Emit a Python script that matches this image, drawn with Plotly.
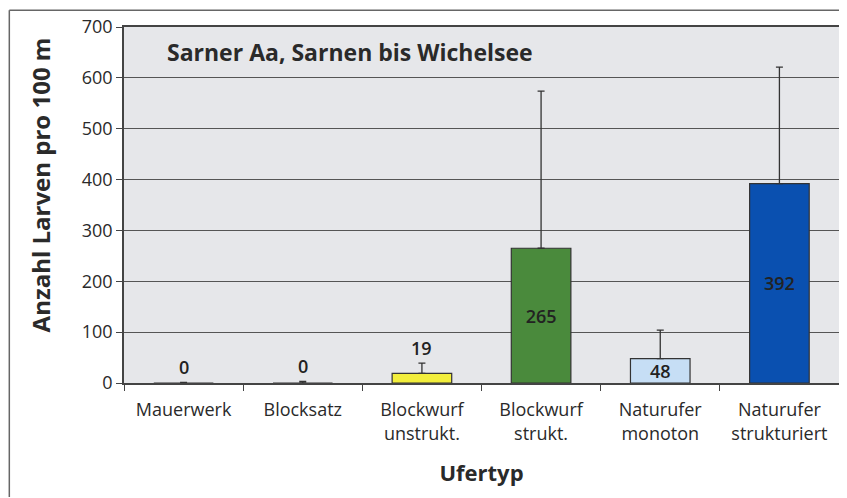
import plotly.graph_objects as go

# Ufertyp categories and mean larvae per 100 m
categories = ["Mauerwerk", "Blocksatz", "Blockwurf<br>unstrukt.", "Blockwurf<br>strukt.",
              "Naturufer<br>monoton", "Naturufer<br>strukturiert"]
larvae = [0, 0, 19, 265, 48, 392]
larvae_err = [1, 3, 20, 309, 56, 229]
value_labels = ["0", "0", "19", "265", "48", "392"]
label_inside = [False, False, False, True, True, True]

bar_colors = ["#f2ee3c", "#f2ee3c", "#f2ee3c", "#4a8a3c", "#c6def5", "#0a50b0"]
font_family = "'Open Sans', Lato, sans-serif"

fig = go.Figure()
fig.add_trace(go.Bar(
    x=categories, y=larvae,
    marker=dict(color=bar_colors, line=dict(color="#333333", width=1.2)),
    width=0.5,
    error_y=dict(type="data", symmetric=False, array=larvae_err, arrayminus=[0] * 6,
                 color="#333333", thickness=1.3, width=3.5),
    text=[t if inside else "" for t, inside in zip(value_labels, label_inside)],
    textposition="inside", insidetextanchor="middle", textangle=0, constraintext="none",
    textfont=dict(family=font_family, size=18, color="#222222", weight=600),
    hoverinfo="skip",
))

# labels for the small bars sit above the error bar
for cat, val, err, lab, inside in zip(categories, larvae, larvae_err, value_labels, label_inside):
    if not inside:
        fig.add_annotation(x=cat, y=val + err, text=lab, showarrow=False,
                           yanchor="middle", yshift=15,
                           font=dict(family=font_family, size=18, color="#222222", weight=600))

fig.add_annotation(xref="paper", yref="paper", x=0.058, y=0.93, xanchor="left", yanchor="middle",
                   text="<b>Sarner Aa, Sarnen bis Wichelsee</b>", showarrow=False,
                   font=dict(family=font_family, size=23, color="#2a2a2a"))

# y-axis title (sits a little above the axis centre in the original)
fig.add_annotation(xref="paper", yref="paper", x=-0.117, y=0.556, xanchor="center", yanchor="middle",
                   text="<b>Anzahl Larven pro 100 m</b>", textangle=-90, showarrow=False,
                   font=dict(family=font_family, size=24, color="#2a2a2a"))

# outer frame of the figure: top and left edges (others fall outside the picture)
frame = dict(color="#666666", width=1.5)
fig.add_shape(type="line", xref="paper", yref="paper", x0=-0.1604, x1=1.008, y0=1.047, y1=1.047, line=frame)
fig.add_shape(type="line", xref="paper", yref="paper", x0=-0.1604, x1=-0.1604, y0=-0.32, y1=1.047, line=frame)

fig.update_layout(
    width=839, height=490,
    margin=dict(l=116, r=6, t=19, b=115),
    paper_bgcolor="white",
    plot_bgcolor="#e6e7ea",
    showlegend=False,
    bargap=0.5,
    font=dict(family=font_family, color="#2a2a2a"),
    xaxis=dict(
        title=dict(text="<b>Ufertyp</b>", font=dict(size=22), standoff=22),
        tickfont=dict(size=18),
        ticklabelstandoff=10,
        showline=True, linecolor="#444444", linewidth=1.5, mirror=True,
        ticks="outside", tickson="boundaries", ticklen=6, tickcolor="#444444",
        showgrid=False,
    ),
    yaxis=dict(
        range=[0, 700], dtick=100,
        tickfont=dict(size=18),
        showline=True, linecolor="#444444", linewidth=1.5, mirror=True,
        ticks="outside", ticklen=6, tickcolor="#444444",
        showgrid=True, gridcolor="#555555", gridwidth=1,
        zeroline=False,
    ),
)

fig.write_html("out.html")
